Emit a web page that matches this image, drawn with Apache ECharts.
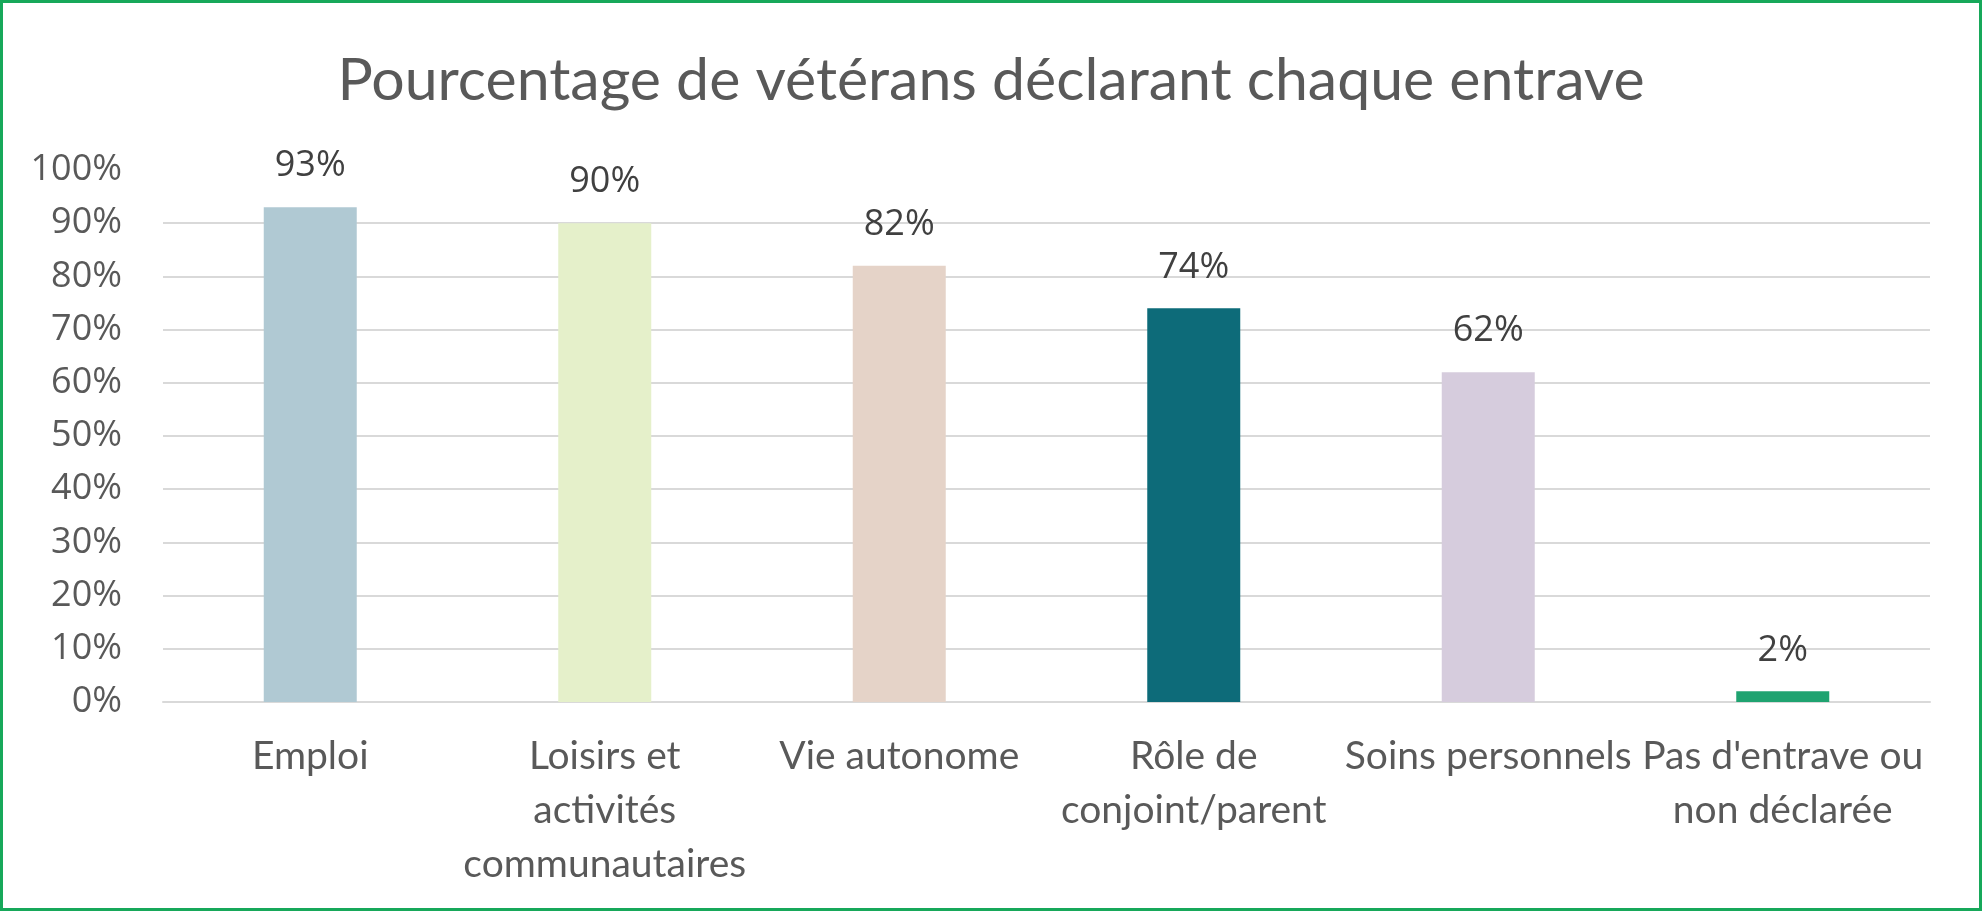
<!DOCTYPE html>
<html>
<head>
<meta charset="utf-8">
<script src="https://cdn.jsdelivr.net/npm/echarts@6/dist/echarts.min.js"></script>
<style>
  html, body { margin: 0; padding: 0; background: #ffffff; }
  #frame { position: absolute; left: 0; top: 0; width: 1982px; height: 911px; box-sizing: border-box; border: 3px solid #17A85A; background: #fff; }
  #chart { width: 100%; height: 100%; }
</style>
</head>
<body>
<div id="frame"><div id="chart"></div></div>
<script>
const titleText = 'Pourcentage de vétérans déclarant chaque entrave';
const categories = ['Emploi', 'Loisirs et\nactivités\ncommunautaires', 'Vie autonome', 'Rôle de\nconjoint/parent', 'Soins personnels', "Pas d'entrave ou\nnon déclarée"];
const values = [93, 90, 82, 74, 62, 2];
const barColors = ['#B0C9D3', '#E5F0CA', '#E5D3C8', '#0D6B79', '#D6CCDD', '#1FA370'];
const yTicks = { min: 0, max: 100, interval: 10 };

const calibri = 'Lato, "Open Sans", sans-serif';
const chart = echarts.init(document.getElementById('chart'), null, { renderer: 'canvas' });
chart.setOption({
  animation: false,
  title: {
    text: titleText,
    left: 'center',
    top: 42,
    textStyle: { fontFamily: calibri, fontSize: 59, fontWeight: 'normal', color: '#595959', lineHeight: 62 }
  },
  grid: { left: 160, right: 49, top: 167, bottom: 206, containLabel: false },
  xAxis: {
    type: 'category',
    data: categories,
    axisTick: { show: false },
    axisLine: { lineStyle: { color: '#D9D9D9', width: 2 } },
    axisLabel: { interval: 0, margin: 27, fontFamily: calibri, fontSize: 39, lineHeight: 54, color: '#595959' }
  },
  yAxis: {
    type: 'value',
    min: yTicks.min, max: yTicks.max, interval: yTicks.interval,
    axisLine: { show: false },
    axisTick: { show: false },
    axisLabel: { formatter: '{value}%', margin: 41, fontFamily: '"Open Sans", sans-serif', fontSize: 36, color: '#595959' },
    splitLine: { showMaxLine: false, lineStyle: { color: '#D9D9D9', width: 2 } }
  },
  series: [{
    type: 'bar',
    data: values.map((v, i) => ({ value: v, itemStyle: { color: barColors[i] } })),
    barWidth: 93,
    label: {
      show: true, position: 'top', distance: 23,
      formatter: '{c}%',
      fontFamily: '"Open Sans", sans-serif', fontSize: 36, color: '#404040'
    }
  }]
});
</script>
</body>
</html>
